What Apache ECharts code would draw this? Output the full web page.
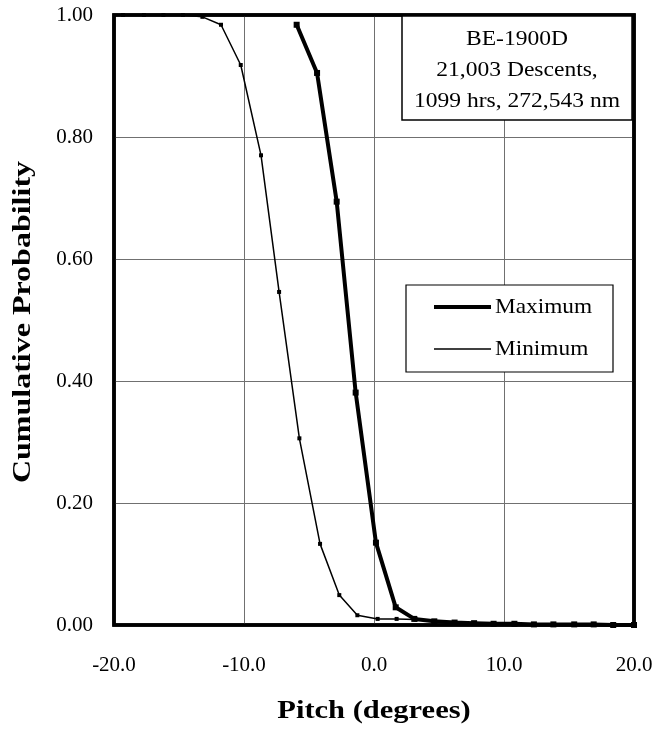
<!DOCTYPE html>
<html>
<head>
<meta charset="utf-8">
<title>BE-1900D pitch distribution</title>
<script src="https://cdn.jsdelivr.net/npm/echarts@6/dist/echarts.min.js"></script>
<style>
  html, body { margin: 0; padding: 0; background: #fff; }
  #chart { width: 659px; height: 733px; }
</style>
</head>
<body>
<div id="chart"></div>
<script>
// Pitch (degrees) at each sample point, with cumulative probability
const maxPitch = [-5.95, -4.38, -2.87, -1.41, 0.15, 1.67, 3.1, 4.64, 6.2, 7.7, 9.2, 10.8, 12.3, 13.8, 15.4, 16.9, 18.4, 20.0];
const maxProb  = [0.984, 0.905, 0.694, 0.381, 0.135, 0.029, 0.010, 0.006, 0.004, 0.003, 0.002, 0.002, 0.001, 0.001, 0.001, 0.001, 0.000, 0.000];

const minPitch = [-19.3, -17.7, -16.2, -14.7, -13.2, -11.77, -10.25, -8.69, -7.3, -5.74, -4.15, -2.67, -1.28, 0.28, 1.74, 3.2, 4.7, 6.2, 7.7, 9.2, 10.8, 12.3, 13.8, 15.4, 16.9, 18.4, 20.0];
const minProb  = [1.000, 1.000, 1.000, 1.000, 0.997, 0.984, 0.918, 0.770, 0.546, 0.306, 0.133, 0.049, 0.016, 0.010, 0.010, 0.009, 0.006, 0.003, 0.002, 0.001, 0.001, 0.001, 0.000, 0.000, 0.000, 0.000, 0.000];

const xTicks = { min: -20, max: 20, step: 10 };
const yTicks = { min: 0, max: 1, step: 0.2 };

const seriesNames = ['Maximum', 'Minimum'];
const infoLines = ['BE-1900D', '21,003 Descents,', '1099 hrs, 272,543 nm'];

const pair = (xs, ys) => xs.map((x, i) => [x, ys[i]]);
const SERIF = '"Liberation Serif", "Times New Roman", serif';

const chart = echarts.init(document.getElementById('chart'), null, { renderer: 'canvas' });

const G = { left: 114, top: 15, width: 520, height: 610 };

chart.setOption({
  animation: false,
  backgroundColor: '#ffffff',
  grid: {
    left: G.left, top: G.top, width: G.width, height: G.height,
    show: true, borderColor: '#000', borderWidth: 3.5, backgroundColor: 'transparent'
  },
  xAxis: {
    type: 'value',
    min: xTicks.min, max: xTicks.max, interval: xTicks.step,
    axisLine: { show: false },
    axisTick: { show: false },
    splitLine: { show: true, lineStyle: { color: '#707070', width: 1 } },
    axisLabel: {
      margin: 30, color: '#000', fontFamily: SERIF, fontSize: 21,
      formatter: v => v.toFixed(1)
    }
  },
  yAxis: {
    type: 'value',
    min: yTicks.min, max: yTicks.max, interval: yTicks.step,
    axisLine: { show: false },
    axisTick: { show: false },
    splitLine: { show: true, lineStyle: { color: '#707070', width: 1 } },
    axisLabel: {
      margin: 21, color: '#000', fontFamily: SERIF, fontSize: 21,
      formatter: v => v.toFixed(2)
    }
  },
  series: [
    {
      name: seriesNames[0], type: 'line',
      data: pair(maxPitch, maxProb),
      symbol: 'rect', symbolSize: 6,
      lineStyle: { color: '#000', width: 4 },
      itemStyle: { color: '#000' },
      z: 5
    },
    {
      name: seriesNames[1], type: 'line',
      data: pair(minPitch, minProb),
      symbol: 'rect', symbolSize: 4,
      lineStyle: { color: '#000', width: 1.5 },
      itemStyle: { color: '#000' },
      z: 4
    }
  ],
  graphic: [
    // frame redrawn on top so lines run under it
    {
      type: 'rect', z: 100,
      shape: { x: G.left, y: G.top, width: G.width, height: G.height },
      style: { fill: 'none', stroke: '#000', lineWidth: 3.5 }
    },
    // information box, upper right
    {
      type: 'rect', z: 50,
      shape: { x: 402, y: G.top, width: 230, height: 105 },
      style: { fill: '#fff', stroke: '#000', lineWidth: 1.5 }
    },
    ...infoLines.map((t, i) => ({
      type: 'text', z: 51,
      x: 517, y: 39 + i * 31, scaleX: 1.07,
      style: { text: t, fill: '#000', font: '22px ' + SERIF, textAlign: 'center', textVerticalAlign: 'middle' }
    })),
    // legend box
    {
      type: 'rect', z: 50,
      shape: { x: 406, y: 285, width: 207, height: 87 },
      style: { fill: '#fff', stroke: '#000', lineWidth: 1.2 }
    },
    {
      type: 'line', z: 51,
      shape: { x1: 434, y1: 307, x2: 491, y2: 307 },
      style: { stroke: '#000', lineWidth: 4 }
    },
    {
      type: 'line', z: 51,
      shape: { x1: 434, y1: 349, x2: 491, y2: 349 },
      style: { stroke: '#000', lineWidth: 1.5 }
    },
    {
      type: 'text', z: 51, x: 495, y: 307, scaleX: 1.06,
      style: { text: seriesNames[0], fill: '#000', font: '22px ' + SERIF, textVerticalAlign: 'middle' }
    },
    {
      type: 'text', z: 51, x: 495, y: 349, scaleX: 1.06,
      style: { text: seriesNames[1], fill: '#000', font: '22px ' + SERIF, textVerticalAlign: 'middle' }
    },
    // axis titles
    {
      type: 'text', z: 51, x: 374, y: 712, scaleX: 1.22,
      style: { text: 'Pitch (degrees)', fill: '#000', font: 'bold 25px ' + SERIF, textAlign: 'center', textVerticalAlign: 'middle' }
    },
    {
      type: 'text', z: 51, x: 24, y: 322, rotation: Math.PI / 2, scaleX: 1.28,
      style: { text: 'Cumulative Probability', fill: '#000', font: 'bold 25px ' + SERIF, textAlign: 'center', textVerticalAlign: 'middle' }
    }
  ]
});
</script>
</body>
</html>
